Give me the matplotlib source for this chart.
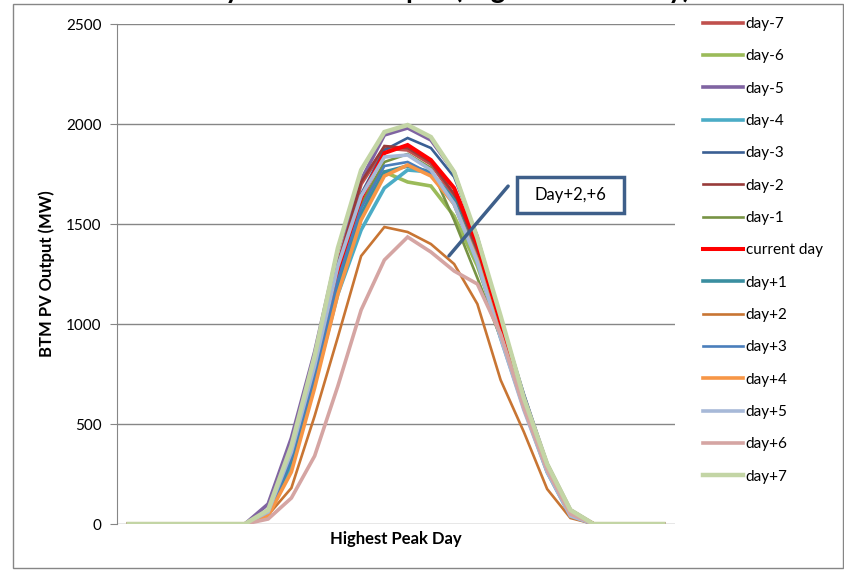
import numpy as np
import matplotlib.pyplot as plt
from matplotlib.patches import Rectangle

plt.rcParams['font.family'] = ['Lato', 'DejaVu Sans']

# 24 hourly points of the highest peak day (MW)
hours = list(range(24))

series_names = ['day-7', 'day-6', 'day-5', 'day-4', 'day-3', 'day-2', 'day-1',
                'current day', 'day+1', 'day+2', 'day+3', 'day+4', 'day+5',
                'day+6', 'day+7']

zeros6 = [0, 0, 0, 0, 0, 0]
zeros4 = [0, 0, 0, 0]
day_m7 = zeros6 + [60, 370, 800, 1300, 1700, 1880, 1870, 1800, 1640, 1360, 960, 600, 270, 50] + zeros4
day_m6 = zeros6 + [50, 350, 760, 1240, 1590, 1760, 1710, 1690, 1540, 1290, 960, 620, 300, 70] + zeros4
day_m5 = zeros6 + [100, 430, 860, 1370, 1720, 1945, 1980, 1920, 1760, 1420, 1010, 640, 300, 70] + zeros4
day_m4 = zeros6 + [40, 290, 700, 1150, 1470, 1680, 1770, 1760, 1600, 1310, 930, 580, 260, 40] + zeros4
day_m3 = zeros6 + [60, 380, 800, 1300, 1650, 1870, 1930, 1880, 1735, 1440, 1030, 650, 300, 60] + zeros4
day_m2 = zeros6 + [60, 360, 790, 1290, 1710, 1890, 1880, 1810, 1650, 1370, 970, 610, 275, 55] + zeros4
day_m1 = zeros6 + [50, 340, 760, 1230, 1600, 1810, 1850, 1780, 1520, 1230, 930, 600, 290, 70] + zeros4
current = zeros6 + [50, 350, 780, 1270, 1630, 1855, 1895, 1820, 1680, 1400, 990, 620, 280, 60] + zeros4
day_p1 = zeros6 + [40, 320, 730, 1200, 1550, 1760, 1790, 1760, 1620, 1320, 940, 590, 270, 50] + zeros4
day_p2 = zeros6 + [45, 180, 540, 935, 1340, 1485, 1460, 1400, 1300, 1100, 720, 460, 175, 30] + zeros4
day_p3 = zeros6 + [40, 330, 740, 1220, 1580, 1790, 1810, 1750, 1610, 1320, 930, 580, 260, 40] + zeros4
day_p4 = zeros6 + [40, 260, 680, 1150, 1520, 1740, 1795, 1740, 1600, 1320, 940, 590, 270, 50] + zeros4
day_p5 = zeros6 + [60, 360, 790, 1290, 1640, 1835, 1845, 1770, 1600, 1310, 930, 570, 260, 40] + zeros4
day_p6 = zeros6 + [25, 130, 340, 690, 1070, 1320, 1435, 1360, 1265, 1200, 950, 580, 270, 50] + zeros4
day_p7 = zeros6 + [70, 390, 840, 1380, 1770, 1960, 1995, 1935, 1760, 1430, 1040, 630, 300, 70] + zeros4

all_series = [day_m7, day_m6, day_m5, day_m4, day_m3, day_m2, day_m1, current,
              day_p1, day_p2, day_p3, day_p4, day_p5, day_p6, day_p7]

colors = ['#C0504D', '#9BBB59', '#8064A2', '#4BACC6', '#3A5F93', '#983B3A',
          '#779344', '#FF0000', '#3A8EA0', '#C87533', '#4A7EBB', '#F79646',
          '#A7B9D8', '#D5A5A3', '#C3D5A5']
widths = [2.6, 2.6, 2.6, 2.6, 1.9, 1.9, 1.9, 2.9, 2.6, 1.9, 1.9, 2.6, 2.6, 2.6, 3.2]

fig = plt.figure(figsize=(8.45, 5.72), dpi=100)
ax = fig.add_axes([117 / 845, 48 / 572, 558 / 845, 500 / 572])

for vals, name, c, lw in zip(all_series, series_names, colors, widths):
    ax.plot(hours, vals, color=c, lw=lw, label=name, solid_joinstyle='miter')

ax.set_xlim(-0.5, 23.5)
ax.set_ylim(0, 2500)
ax.set_yticks([0, 500, 1000, 1500, 2000, 2500])
ax.set_xticks([])
ax.grid(axis='y', color='#868686', lw=1)
ax.set_axisbelow(True)
for s in ['top', 'right', 'bottom']:
    ax.spines[s].set_visible(False)
ax.spines['left'].set_color('#868686')
ax.tick_params(axis='y', length=5, color='#868686', labelsize=11, pad=6)
ax.set_ylabel('BTM PV Output (MW)', fontsize=12, fontweight='bold', labelpad=8)
ax.set_xlabel('Highest Peak Day', fontsize=12, fontweight='bold', labelpad=5)

# callout for day+2 and day+6
ax.annotate('', xy=(13.7, 1330), xytext=(16.4, 1700),
            arrowprops=dict(arrowstyle='-', color='#3E5F8A', lw=2.5))
fig.add_artist(Rectangle((517 / 845, 1 - 213 / 572), 107 / 845, 36 / 572,
                         transform=fig.transFigure, fill=False,
                         edgecolor='#3E5F8A', lw=2.5))
fig.text(570.5 / 845, 1 - 195 / 572, 'Day+2,+6', fontsize=12,
         ha='center', va='center')

fig.legend(loc='upper left', bbox_to_anchor=(703 / 845, 1 - 17 / 572),
           frameon=False, fontsize=11, handlelength=2.6, handletextpad=0.2,
           labelspacing=1.2, borderpad=0, borderaxespad=0)

# outer chart border and clipped title at top
fig.add_artist(Rectangle((13 / 845, 4 / 572), 830 / 845, 564 / 572,
                         transform=fig.transFigure, fill=False,
                         edgecolor='#868686', lw=1))
fig.text(0.5, 1 + 2 / 572, 'Hourly BTM PV Output (Highest Peak Day)',
         fontsize=20, fontweight='bold', ha='center', va='baseline')

fig.savefig('out.png', dpi=100)
